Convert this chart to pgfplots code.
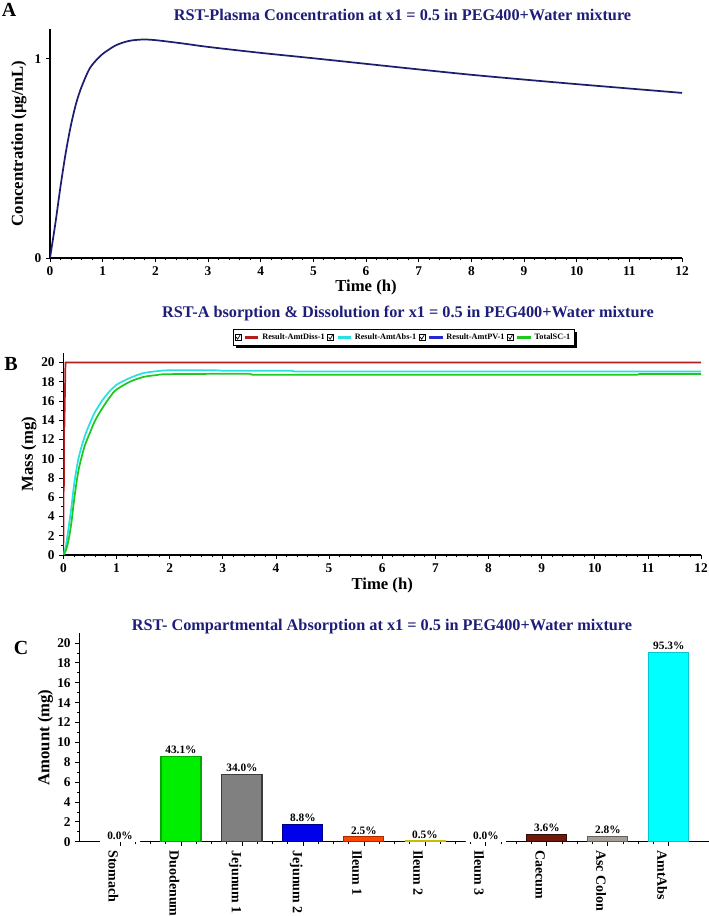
\documentclass[border=0pt]{standalone}
\usepackage{pgfplots}
\pgfplotsset{compat=1.18}
\usepackage{fontspec}
\setmainfont{Liberation Serif}
\usetikzlibrary{shadows}
\definecolor{navy}{RGB}{30,30,120}
\definecolor{plasma}{RGB}{30,30,110}
\definecolor{cdiss}{RGB}{180,30,30}
\definecolor{cabs}{RGB}{40,225,225}
\definecolor{cpv}{RGB}{40,40,210}
\definecolor{ctsc}{RGB}{30,200,30}
\newcommand{\tickfont}{\bfseries\fontsize{10}{11}\selectfont}
\newcommand{\labfont}{\bfseries\fontsize{12.5}{14}\selectfont}
\newcommand{\titfont}{\bfseries\fontsize{12.2}{14}\selectfont}
\newcommand{\chk}[1]{%
  \pgfscope
    \pgfsetlinewidth{0.3pt}\pgfsetstrokecolor{black}\pgfsetfillcolor{white}%
    \pgfpathrectangle{\pgfpoint{0pt}{-2.3pt}}{\pgfpoint{4.4pt}{4.6pt}}%
    \pgfusepath{fill,stroke}%
    \pgfsetlinewidth{0.5pt}%
    \pgfpathmoveto{\pgfpoint{0.8pt}{0.2pt}}\pgfpathlineto{\pgfpoint{1.9pt}{-1.4pt}}\pgfpathlineto{\pgfpoint{3.7pt}{1.7pt}}%
    \pgfusepath{stroke}%
    \pgfsetlinewidth{1.8pt}\pgfsetstrokecolor{#1}\pgfsetdash{}{0pt}%
    \pgfpathmoveto{\pgfpoint{7.5pt}{0pt}}\pgfpathlineto{\pgfpoint{17.5pt}{0pt}}%
    \pgfusepath{stroke}%
  \endpgfscope}
\pgfplotsset{
  base/.style={
    scale only axis,
    anchor=south west,
    axis lines*=left,
    axis line style={black,line width=0.9pt,-},
    tick align=outside,
    tick style={black,line width=0.6pt},
    major tick length=3pt,
    minor tick length=1.8pt,
    /pgf/number format/assume math mode=true,
    tick label style={font=\tickfont},
  }
}
\begin{document}
\begin{tikzpicture}
\useasboundingbox (0,0) rectangle (531.75pt,687pt);
% panel letters and titles
\node[font=\bfseries\fontsize{15}{16}\selectfont] at (6.75pt,679.5pt) {A};
\node[font=\bfseries\fontsize{15}{16}\selectfont] at (8.25pt,414pt) {B};
\node[font=\bfseries\fontsize{15}{16}\selectfont] at (15.75pt,201pt) {C};
\node[font=\titfont,text=navy] at (301.9pt,675.75pt) {RST-Plasma Concentration at x1 = 0.5 in PEG400+Water mixture};
\node[font=\titfont,text=navy] at (306pt,451.5pt) {RST-A bsorption \& Dissolution for x1 = 0.5 in PEG400+Water mixture};
\node[font=\titfont,text=navy] at (286.5pt,217pt) {RST- Compartmental Absorption at x1 = 0.5 in PEG400+Water mixture};

% ---------------- Panel A
\begin{axis}[base,
  at={(37.5pt,493.5pt)}, width=474pt, height=171.75pt,
  xmin=0, xmax=12, ymin=0, ymax=1.15,
  xtick={0,1,...,12}, minor x tick num=4,
  ytick={0,1},
  xlabel={Time (h)}, ylabel={Concentration (µg/mL)},
  every axis x label/.style={at={(axis description cs:0.5,-0.13)},anchor=center,font=\labfont},
  every axis y label/.style={at={(axis description cs:-0.049,0.5)},rotate=90,anchor=center,font=\labfont},
]
\addplot[plasma, line width=1.3pt, smooth] coordinates {
(0,0) (0.1,0.17) (0.2,0.36) (0.3,0.53) (0.4,0.67) (0.5,0.78) (0.6,0.86)
(0.75,0.95) (0.9,1.0) (1.0,1.025) (1.25,1.068) (1.5,1.09) (1.75,1.097)
(2,1.094) (2.5,1.078) (3,1.06) (4,1.03) (5,1.003) (6,0.975) (7,0.947)
(8,0.92) (9,0.896) (10,0.873) (11,0.851) (12,0.829)};
\end{axis}

% ---------------- Panel B
\begin{axis}[base,
  at={(47.5pt,270.75pt)}, width=478.3pt, height=151.5pt,
  xmin=0, xmax=12, ymin=0, ymax=21,
  xtick={0,1,...,12}, minor x tick num=4,
  ytick={0,2,...,20}, minor y tick num=1,
  xlabel={Time (h)}, ylabel={Mass (mg)},
  every axis x label/.style={at={(axis description cs:0.5,-0.149)},anchor=center,font=\labfont},
  every axis y label/.style={at={(axis description cs:-0.054,0.5)},rotate=90,anchor=center,font=\labfont},
  legend columns=4,
  legend style={at={(axis description cs:0.534,1.119)}, anchor=north,
    draw=black, line width=0.8pt, fill=white,
    general shadow={fill=black, shadow xshift=2pt, shadow yshift=-2pt},
    font=\bfseries\fontsize{6.2}{7}\selectfont,
    inner sep=1pt, row sep=0pt,
    /tikz/every even column/.append style={column sep=0pt}},
]
\addplot[cdiss, line width=1.3pt, forget plot] coordinates {
(0,0) (0.005,6.7) (0.01,6.7) (0.015,13.4) (0.02,13.4) (0.04,20) (12,20)};
\addplot[cabs, line width=1.3pt, smooth, forget plot] coordinates {
(0,0) (0.05,1.0) (0.1,2.9) (0.15,4.9) (0.2,7.2) (0.25,9.0) (0.3,10.4)
(0.4,12.3) (0.5,13.7) (0.6,14.9) (0.75,16.2) (0.9,17.2) (1,17.7)
(1.25,18.4) (1.5,18.9) (1.75,19.1) (2,19.2) (2.9,19.2)};
\addplot[cabs, line width=1.3pt, forget plot] coordinates {
(2.9,19.2) (3.0,19.15) (4.3,19.15) (4.35,19.07) (12,19.07)};
\addplot[ctsc, line width=1.3pt, smooth, forget plot] coordinates {
(0,0) (0.05,0.5) (0.1,1.6) (0.15,3.3) (0.2,5.6) (0.25,7.6) (0.3,9.2)
(0.4,11.3) (0.5,12.7) (0.6,14.0) (0.75,15.4) (0.9,16.6) (1,17.2)
(1.25,18.0) (1.5,18.5) (1.75,18.7) (2,18.8) (3.5,18.85)};
\addplot[ctsc, line width=1.3pt, forget plot] coordinates {
(3.5,18.85) (3.55,18.75) (10.8,18.75) (10.85,18.82) (12,18.82)};
\addlegendimage{legend image code/.code={\chk{cdiss}}}
\addlegendentry{Result-AmtDiss-1}
\addlegendimage{legend image code/.code={\chk{cabs}}}
\addlegendentry{Result-AmtAbs-1}
\addlegendimage{legend image code/.code={\chk{cpv}}}
\addlegendentry{Result-AmtPV-1}
\addlegendimage{legend image code/.code={\chk{ctsc}}}
\addlegendentry{TotalSC-1}
\end{axis}

% ---------------- Panel C
\begin{axis}[base,
  at={(59.5pt,55.7pt)}, width=472.3pt, height=156.5pt,
  xmin=-0.667, xmax=9.66, ymin=0, ymax=21,
  xtick={0,...,9},
  xticklabels={Stomach,Duodenum,Jejunum 1,Jejunum 2,Ileum 1,Ileum 2,Ileum 3,Caecum,Asc Colon,AmtAbs},
  xticklabel style={rotate=-90, anchor=west, font=\bfseries\fontsize{10.5}{11}\selectfont, yshift=-5pt},
  minor x tick num=3,
  ytick={0,2,...,20}, minor y tick num=1,
  ylabel={Amount (mg)},
  every axis y label/.style={at={(axis description cs:-0.054,0.5)},rotate=90,anchor=center,font=\labfont},
  ybar, bar shift=0pt, bar width=0.656,
  nodes near coords, point meta=explicit symbolic,
  every node near coord/.append style={font=\bfseries\fontsize{8.5}{9}\selectfont, text=black, inner sep=1.5pt},
]
\addplot[fill=white, draw=white] coordinates {(0,0) [0.0\%]};
\addplot[fill={rgb,255:red,0;green,238;blue,0}, draw={rgb,255:red,0;green,170;blue,0}, line width=0.8pt] coordinates {(1,8.62) [43.1\%]};
\addplot[fill={rgb,255:red,128;green,128;blue,128}, draw={rgb,255:red,60;green,60;blue,60}, line width=0.8pt] coordinates {(2,6.8) [34.0\%]};
\addplot[fill={rgb,255:red,0;green,0;blue,235}, draw={rgb,255:red,0;green,0;blue,130}, line width=0.8pt] coordinates {(3,1.76) [8.8\%]};
\addplot[fill={rgb,255:red,255;green,69;blue,0}, draw={rgb,255:red,170;green,40;blue,0}, line width=0.8pt] coordinates {(4,0.5) [2.5\%]};
\addplot[fill={rgb,255:red,230;green,220;blue,0}, draw={rgb,255:red,200;green,190;blue,0}, line width=0.5pt] coordinates {(5,0.1) [0.5\%]};
\addplot[fill=white, draw=white] coordinates {(6,0) [0.0\%]};
\addplot[fill={rgb,255:red,110;green,25;blue,10}, draw={rgb,255:red,50;green,10;blue,5}, line width=0.8pt] coordinates {(7,0.72) [3.6\%]};
\addplot[fill={rgb,255:red,165;green,158;blue,150}, draw={rgb,255:red,100;green,95;blue,90}, line width=0.8pt] coordinates {(8,0.56) [2.8\%]};
\addplot[fill={rgb,255:red,0;green,255;blue,255}, draw={rgb,255:red,0;green,200;blue,210}, line width=0.8pt] coordinates {(9,19.06) [95.3\%]};
\end{axis}
\end{tikzpicture}
\end{document}
